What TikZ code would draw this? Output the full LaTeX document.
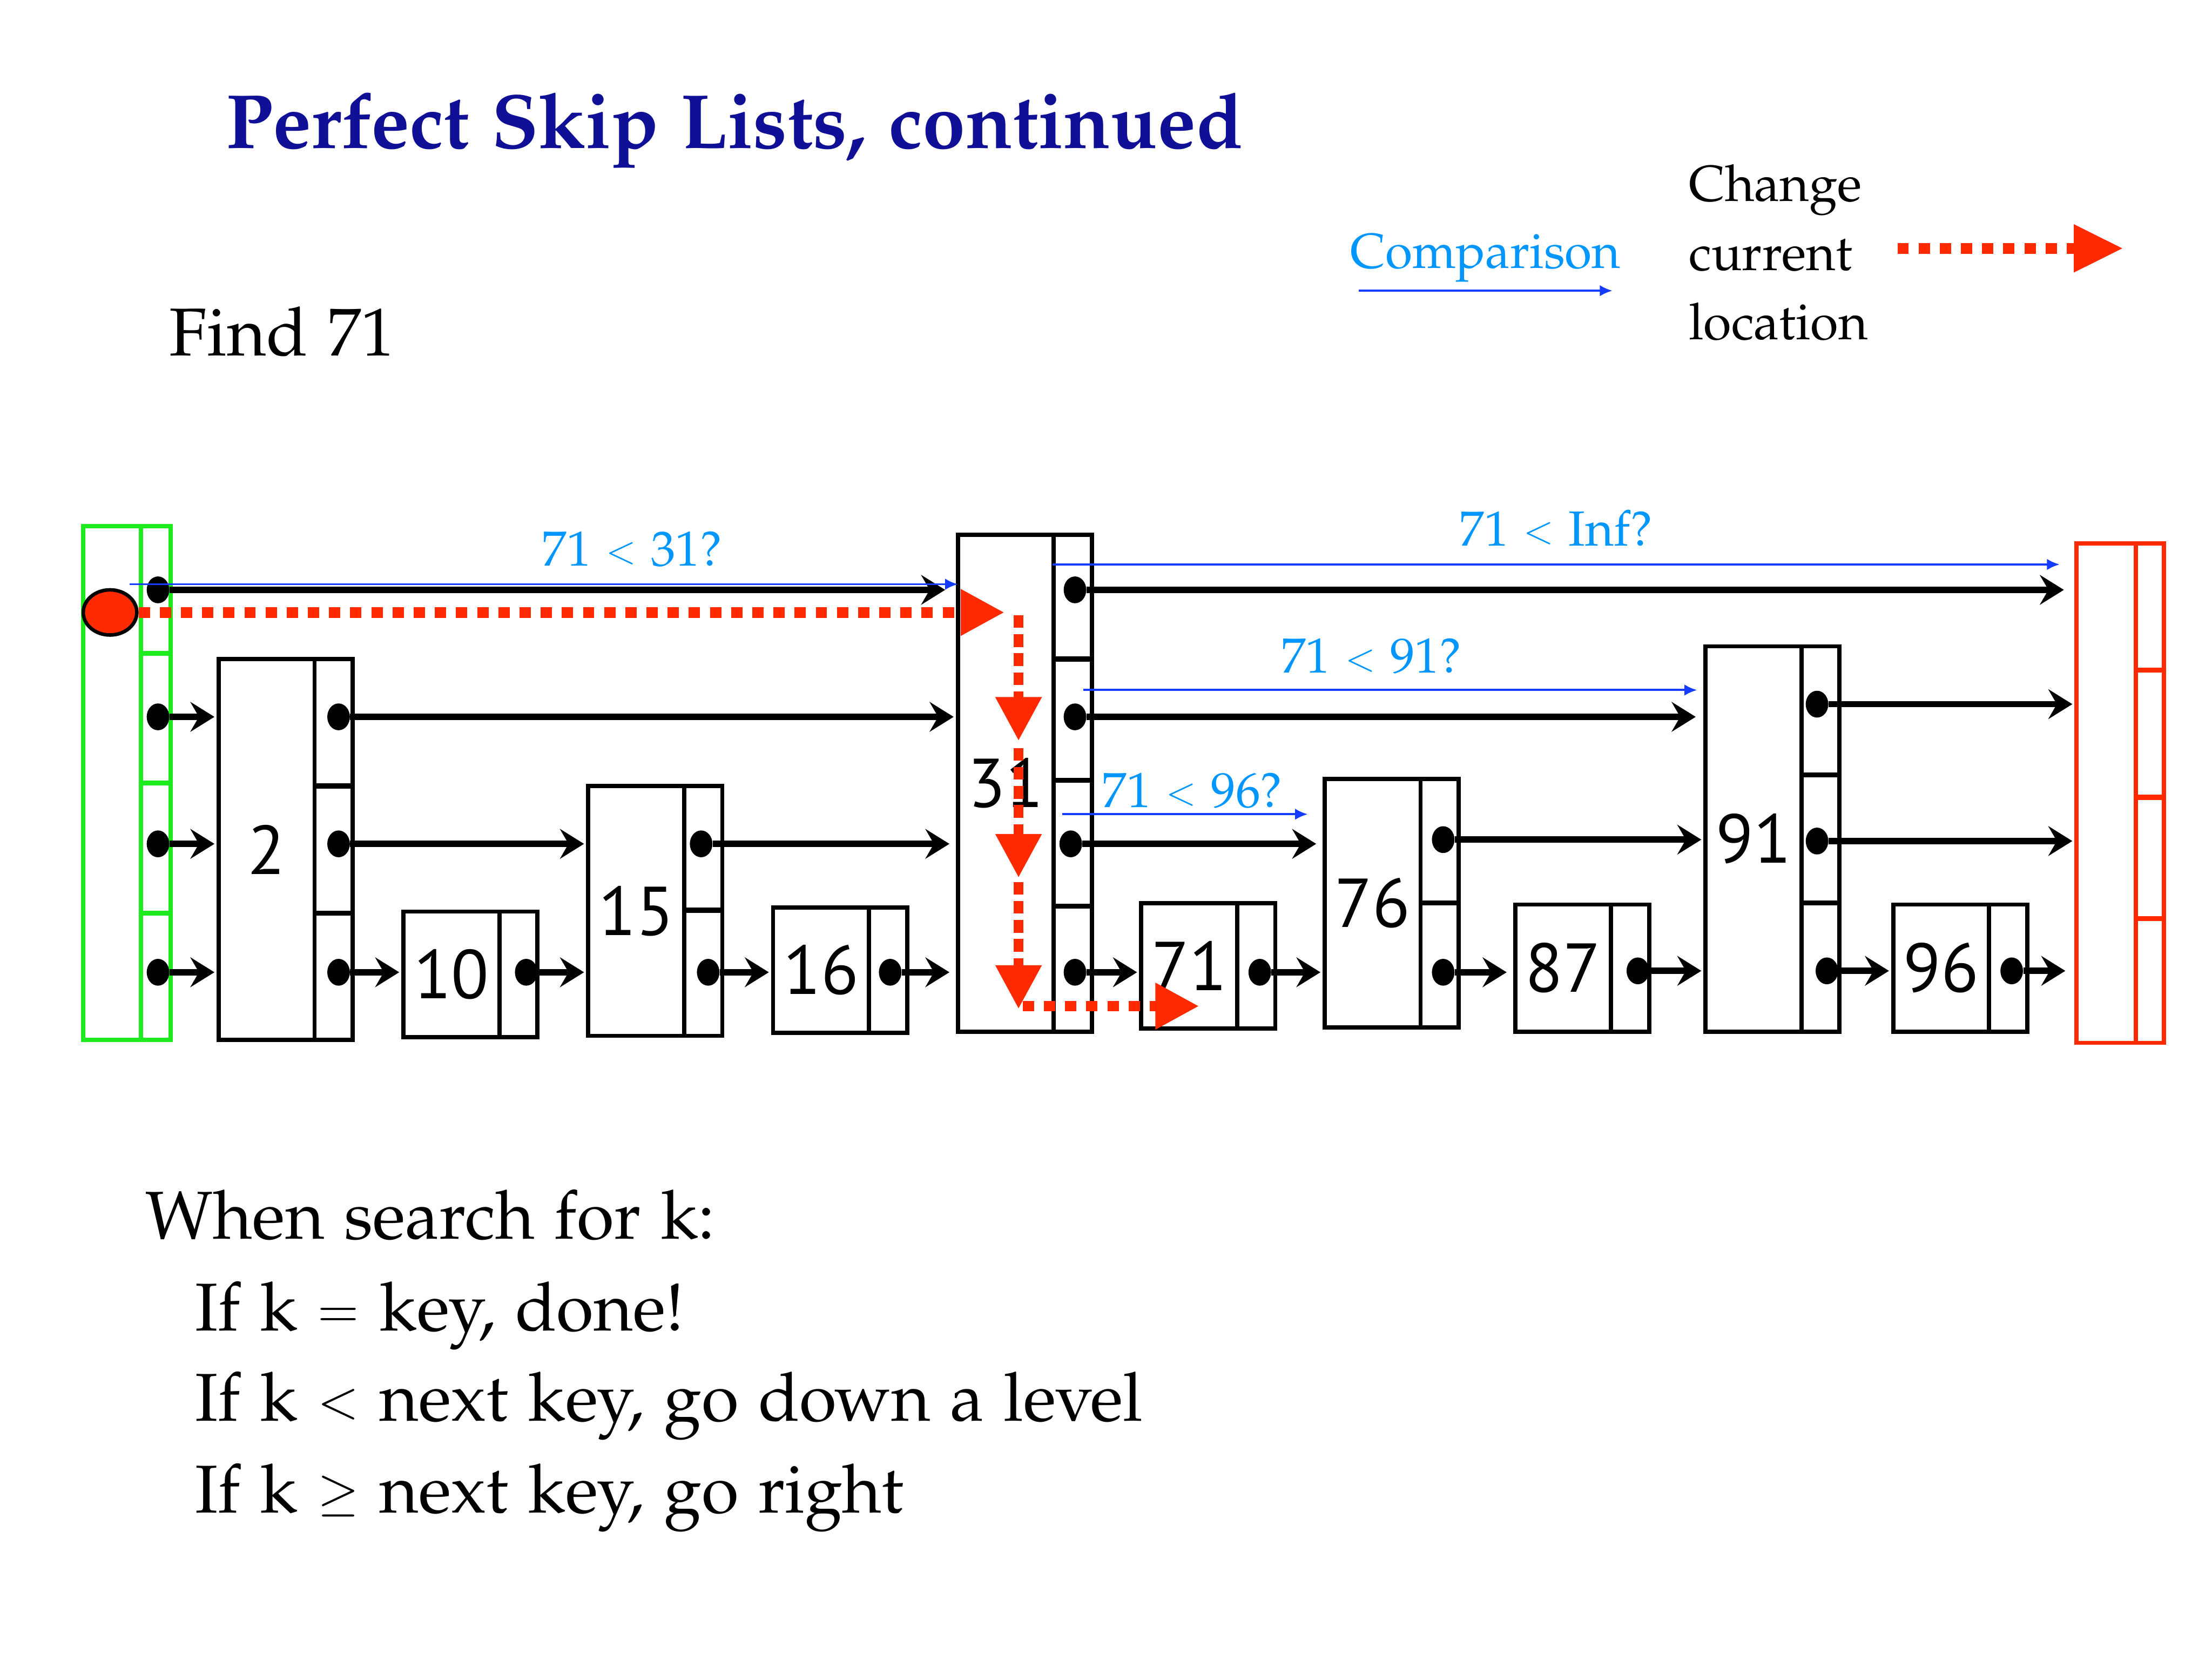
\documentclass[tikz,border=0pt]{standalone}
\usepackage[no-math]{fontspec}
\newfontfamily\numfont{PT Sans}
\usepackage{mathpazo}
\usepackage{graphicx}
\renewcommand{\rmdefault}{lmr}
\newcommand{\palfont}{\fontencoding{OT1}\fontfamily{pplx}\selectfont}
\newcommand{\smallrel}[1]{\raisebox{0.05em}{\scalebox{0.75}{$#1$}}}
\usetikzlibrary{shapes.geometric, arrows.meta, positioning}
\definecolor{titleblue}{RGB}{16,16,150}
\definecolor{labelblue}{RGB}{0,150,255}
\definecolor{cmpblue}{RGB}{20,60,255}
\definecolor{movered}{RGB}{255,42,0}
\definecolor{headgreen}{RGB}{30,235,30}

\begin{document}
\begin{tikzpicture}[
        x=1pt, y=-1pt,
        keybox/.style={draw, line width=3pt, minimum width=68pt, inner sep=0pt, outer sep=0pt, font=\numfont\fontsize{49}{49}\selectfont},
        ptrbox/.style={draw, line width=3pt, minimum width=27pt, inner sep=0pt, outer sep=0pt},
        divider/.style={line width=3.5pt},
        dot/.style={ellipse, fill, inner sep=0pt, minimum width=16pt, minimum height=19pt},
        ptr/.style={line width=4.5pt, shorten >=3pt, -{Stealth[length=17pt, width=21pt, inset=6pt]}},
        cmp/.style={cmpblue, line width=1.5pt, -{Latex[length=9pt, width=8pt]}},
        cmplabel/.style={text=labelblue, inner sep=0pt, font=\palfont\fontsize{35}{42}\selectfont},
        move/.style={movered, line width=7.5pt, dash pattern=on 8pt off 7pt, -{Triangle[length=31pt, width=31pt]}},
        movedown/.style={move, line width=7pt, dash pattern=on 9pt off 4.5pt},
        headbox/.style={draw=headgreen, line width=3pt, inner sep=0pt, outer sep=0pt, minimum height=364pt},
        tailbox/.style={draw=movered, line width=3pt, inner sep=0pt, outer sep=0pt, minimum height=354pt},
        txt/.style={inner sep=0pt, anchor=base west, font=\palfont\fontsize{48}{58}\selectfont}
    ]
        \path[use as bounding box, fill=white] (0,0) rectangle (1568,1176);

        % Title and legend
        \node[txt, text=titleblue, font=\palfont\fontseries{b}\fontsize{54.5}{66}\selectfont] (title) at (160,105) {Perfect Skip Lists, continued};
        \node[txt] (find) at (120,252) {Find 71};
        \node[cmplabel, anchor=base] (cmpkey) at (1053,190) {Comparison};
        \node[txt, anchor=north west, align=left, font=\palfont\fontsize{36}{49}\selectfont] (movekey) at (1197,116) {Change\\current\\location};
        \coordinate (ka) at (963,206);
        \coordinate (kb) at (1143,206);
        \coordinate (kc) at (1345,176);
        \coordinate (kd) at (1505,176);

        % Head and tail
        \node[headbox, minimum width=41pt, anchor=north west] (hl) at (59,373) {};
        \node[headbox, minimum width=21pt, right=0pt of hl] (hr) {};
        \node[tailbox, minimum width=42pt, anchor=north west] (tl) at (1472,385) {};
        \node[tailbox, minimum width=20pt, right=0pt of tl] (tr) {};
        \draw[divider, headgreen] (hr.west |- 0,463) -- (hr.east |- 0,463);
        \draw[divider, headgreen] (hr.west |- 0,555) -- (hr.east |- 0,555);
        \draw[divider, headgreen] (hr.west |- 0,647) -- (hr.east |- 0,647);
        \draw[divider, movered] (tr.west |- 0,475) -- (tr.east |- 0,475);
        \draw[divider, movered] (tr.west |- 0,565) -- (tr.east |- 0,565);
        \draw[divider, movered] (tr.west |- 0,651) -- (tr.east |- 0,651);

        % Keys
        \node[keybox, minimum height=270pt, anchor=north west] (k2) at (155,467) {2};
        \node[ptrbox, minimum height=270pt, right=0pt of k2] (p2) {};
        \node[keybox, minimum height=89pt, anchor=north west] (k10) at (286,646) {10};
        \node[ptrbox, minimum height=89pt, right=0pt of k10] (p10) {};
        \node[keybox, minimum height=177pt, anchor=north west] (k15) at (417,557) {15};
        \node[ptrbox, minimum height=177pt, right=0pt of k15] (p15) {};
        \node[keybox, minimum height=89pt, anchor=north west] (k16) at (548,643) {16};
        \node[ptrbox, minimum height=89pt, right=0pt of k16] (p16) {};
        \node[keybox, minimum height=352pt, anchor=north west] (k31) at (679,379) {31};
        \node[ptrbox, minimum height=352pt, right=0pt of k31] (p31) {};
        \node[keybox, minimum height=89pt, anchor=north west] (k71) at (809,640) {71};
        \node[ptrbox, minimum height=89pt, right=0pt of k71] (p71) {};
        \node[keybox, minimum height=176pt, anchor=north west] (k76) at (939,552) {76};
        \node[ptrbox, minimum height=176pt, right=0pt of k76] (p76) {};
        \node[keybox, minimum height=90pt, anchor=north west] (k87) at (1074,641) {87};
        \node[ptrbox, minimum height=90pt, right=0pt of k87] (p87) {};
        \node[keybox, minimum height=273pt, anchor=north west] (k91) at (1209,458) {91};
        \node[ptrbox, minimum height=273pt, right=0pt of k91] (p91) {};
        \node[keybox, minimum height=90pt, anchor=north west] (k96) at (1342,641) {96};
        \node[ptrbox, minimum height=90pt, right=0pt of k96] (p96) {};
        \draw[divider] (p2.west |- 0,557) -- (p2.east |- 0,557);
        \draw[divider] (p2.west |- 0,647) -- (p2.east |- 0,647);
        \draw[divider] (p15.west |- 0,645) -- (p15.east |- 0,645);
        \draw[divider] (p31.west |- 0,467) -- (p31.east |- 0,467);
        \draw[divider] (p31.west |- 0,553) -- (p31.east |- 0,553);
        \draw[divider] (p31.west |- 0,642) -- (p31.east |- 0,642);
        \draw[divider] (p76.west |- 0,640) -- (p76.east |- 0,640);
        \draw[divider] (p91.west |- 0,549) -- (p91.east |- 0,549);
        \draw[divider] (p91.west |- 0,640) -- (p91.east |- 0,640);

        % Pointer dots
        \node[dot] (h3) at (112,418) {};
        \node[dot] (h2) at (112,508) {};
        \node[dot] (h1) at (112,598) {};
        \node[dot] (h0) at (112,689) {};
        \node[dot] (d2L2) at (240,508) {};
        \node[dot] (d2L1) at (240,598) {};
        \node[dot] (d2L0) at (240,689) {};
        \node[dot] (d10L0) at (373,689) {};
        \node[dot] (d15L1) at (497,598) {};
        \node[dot] (d15L0) at (502,689) {};
        \node[dot] (d16L0) at (631,689) {};
        \node[dot] (d31L3) at (762,418) {};
        \node[dot] (d31L2) at (762,508) {};
        \node[dot] (d31L1) at (759,598) {};
        \node[dot] (d31L0) at (762,689) {};
        \node[dot] (d71L0) at (893,689) {};
        \node[dot] (d76L1) at (1023,595) {};
        \node[dot] (d76L0) at (1023,689) {};
        \node[dot] (d87L0) at (1161,688) {};
        \node[dot] (d91L2) at (1288,499) {};
        \node[dot] (d91L1) at (1288,596) {};
        \node[dot] (d91L0) at (1295,688) {};
        \node[dot] (d96L0) at (1426,688) {};

        % Arrows
        \draw[ptr, shorten >=9pt] (h3) -- (k31.west |- h3);
        \draw[ptr] (h2) -- (k2.west |- h2);
        \draw[ptr] (h1) -- (k2.west |- h1);
        \draw[ptr] (h0) -- (k2.west |- h0);
        \draw[ptr] (d2L2) -- (k31.west |- d2L2);
        \draw[ptr] (d2L1) -- (k15.west |- d2L1);
        \draw[ptr] (d2L0) -- (k10.west |- d2L0);
        \draw[ptr] (d10L0) -- (k15.west |- d10L0);
        \draw[ptr, shorten >=6pt] (d15L1) -- (k31.west |- d15L1);
        \draw[ptr] (d15L0) -- (k16.west |- d15L0);
        \draw[ptr, shorten >=6pt] (d16L0) -- (k31.west |- d16L0);
        \draw[ptr, shorten >=9pt] (d31L3) -- (tl.west |- d31L3);
        \draw[ptr, shorten >=7pt] (d31L2) -- (k91.west |- d31L2);
        \draw[ptr, shorten >=6pt] (d31L1) -- (k76.west |- d31L1);
        \draw[ptr] (d31L0) -- (k71.west |- d31L0);
        \draw[ptr] (d71L0) -- (k76.west |- d71L0);
        \draw[ptr] (d76L1) -- (k91.west |- d76L1);
        \draw[ptr, shorten >=6pt] (d76L0) -- (k87.west |- d76L0);
        \draw[ptr] (d87L0) -- (k91.west |- d87L0);
        \draw[ptr] (d91L2) -- (tl.west |- d91L2);
        \draw[ptr] (d91L1) -- (tl.west |- d91L1);
        \draw[ptr] (d91L0) -- (k96.west |- d91L0);
        \draw[ptr, shorten >=8pt] (d96L0) -- (tl.west |- d96L0);

        % Comparisons
        \coordinate (q1) at (92,414);
        \coordinate (q2) at (746,400);
        \coordinate (q3) at (768,489);
        \coordinate (q4) at (753,577);
        \draw[cmp] (q1) -- (k31.west |- q1);
        \draw[cmp, shorten >=12pt] (q2) -- (tl.west |- q2);
        \draw[cmp, shorten >=6pt] (q3) -- (k91.west |- q3);
        \draw[cmp, shorten >=12pt] (q4) -- (k76.west |- q4);
        \node[cmplabel] (c1) at (448,389) {71 \smallrel{<} 31?};
        \node[cmplabel] (c2) at (1103,374) {71 \smallrel{<} Inf?};
        \node[cmplabel] (c3) at (972,465) {71 \smallrel{<} 91?};
        \node[cmplabel] (c4) at (845,560) {71 \smallrel{<} 96?};
        \draw[cmp] (ka) -- (kb);

        % Search path
        \node[ellipse, draw, line width=2.5pt, fill=movered, minimum width=38pt, minimum height=32pt, inner sep=0pt] (cur) at (78,434) {};
        \coordinate (m1) at (712,434);
        \coordinate (m2) at (722,436);
        \coordinate (m3) at (722,525);
        \coordinate (m4) at (722,530);
        \coordinate (m5) at (722,622);
        \coordinate (m6) at (722,625);
        \coordinate (m7) at (722,715);
        \coordinate (m8) at (725,713);
        \coordinate (m9) at (850,713);
        \draw[move] (cur) -- (m1);
        \draw[movedown] (m2) -- (m3);
        \draw[movedown] (m4) -- (m5);
        \draw[movedown] (m6) -- (m7);
        \draw[move] (m8) -- (m9);
        \draw[move, -{Triangle[length=35pt, width=32pt]}] (kc) -- (kd);

        % Rules
        \node[txt] (rule0) at (103,878) {When search for k:};
        \node[txt] (rule1) at (138,943) {If k \smallrel{=} key, done!};
        \node[txt] (rule2) at (138,1007) {If k \smallrel{<} next key, go down a level};
        \node[txt] (rule3) at (138,1072) {If k \smallrel{\geq} next key, go right};
    \end{tikzpicture}
\end{document}
